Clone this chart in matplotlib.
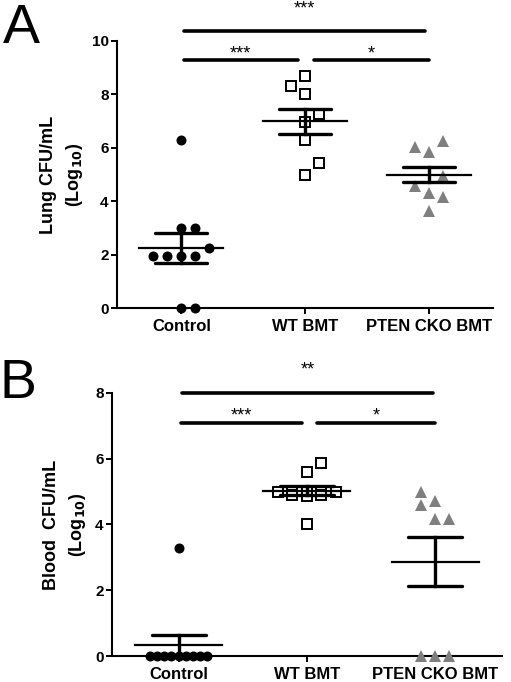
import numpy as np
import matplotlib
matplotlib.use('Agg')
import matplotlib.pyplot as plt
from matplotlib.transforms import offset_copy

plt.rcParams['font.family'] = ['Liberation Sans', 'DejaVu Sans']

groups = ['Control', 'WT BMT', 'PTEN CKO BMT']

# Panel A - lung, slot = horizontal jitter slot
lung_ctrl      = [6.3, 3.0, 3.0, 2.25, 1.95, 1.95, 1.95, 1.95, 0.0, 0.0]
lung_ctrl_slot = [0, 0, 1, 2, -2, -1, 0, 1, 0, 1]
lung_wt        = [8.69, 8.31, 8.0, 7.28, 6.98, 6.29, 5.44, 4.99]
lung_wt_slot   = [0, -1, 0, 1, 0, 0, 1, 0]
lung_pten      = [6.25, 6.02, 5.83, 4.93, 4.57, 4.30, 4.15, 3.65]
lung_pten_slot = [1, -1, 0, 1, -1, 0, 1, 0]
lung_mean = [2.27, 6.99, 5.0]
lung_sem  = [0.56, 0.48, 0.29]

# Panel B - blood
blood_ctrl      = [3.27, 0, 0, 0, 0, 0, 0, 0, 0, 0]
blood_ctrl_slot = [0, -2, -1.5, -1, -0.5, 0, 0.5, 1, 1.5, 2]
blood_wt        = [5.86, 5.60, 5.0, 5.0, 5.0, 5.0, 5.0, 4.9, 4.9, 4.86, 4.0]
blood_wt_slot   = [1, 0, -2, -1, 0, 1, 2, -1, 1, 0, 0]
blood_pten      = [5.0, 4.7, 4.6, 4.18, 4.18, 0, 0, 0]
blood_pten_slot = [-1, 0, -1, 0, 1, -1, 0, 1]
blood_mean = [0.33, 5.03, 2.87]
blood_sem  = [0.31, 0.13, 0.74]

# significance: (x1, x2, bar level, star level, label)
sig_a = [(0.02, 1.97, 10.37, 11.32, '***'), (0.02, 0.94, 9.27, 9.66, '***'), (1.07, 2.0, 9.27, 9.66, '*')]
sig_b = [(0.03, 1.98, 8.0, 8.79, '**'), (0.02, 0.96, 7.07, 7.40, '***'), (1.08, 2.0, 7.07, 7.40, '*')]

fig = plt.figure(figsize=(5.11, 6.82), dpi=100)
axA = fig.add_axes([0.229, 0.548, 0.736, 0.392])
axB = fig.add_axes([0.219, 0.038, 0.763, 0.386])

grey = '#7f7f7f'

def draw(ax, data, slots, means, sems, sig, ylim, ystep, ylabel, slot_w):
    styles = [dict(marker='o', ms=7.2, mfc='black', mec='black', mew=0),
              dict(marker='s', ms=7.6, mfc='white', mec='black', mew=1.4),
              dict(marker='^', ms=8, mfc=grey, mec=grey, mew=0)]
    for i in range(3):
        x = i + np.array(slots[i]) * slot_w
        ax.plot(x, data[i], ls='none', clip_on=False, zorder=3, **styles[i])
    for i in range(3):
        m, s = means[i], sems[i]
        ax.plot([i - 0.34, i + 0.34], [m, m], color='black', lw=1.6, zorder=4, clip_on=False)
        ax.plot([i - 0.21, i + 0.21], [m + s, m + s], color='black', lw=2.4, zorder=4, solid_capstyle='round', clip_on=False)
        ax.plot([i - 0.21, i + 0.21], [m - s, m - s], color='black', lw=2.4, zorder=4, solid_capstyle='round', clip_on=False)
        ax.plot([i, i], [m - s, m + s], color='black', lw=2.4, zorder=4, clip_on=False)
    star_tr = offset_copy(ax.transData, fig=fig, x=0, y=-8, units='dots')
    for x1, x2, y, ys, lab in sig:
        ax.plot([x1, x2], [y, y], color='black', lw=2.6, solid_capstyle='round', clip_on=False)
        ax.text((x1 + x2) / 2, ys, lab, ha='center', va='baseline', fontsize=13,
                transform=star_tr, clip_on=False)
    ax.set_xlim(-0.52, 2.52)
    ax.set_ylim(*ylim)
    ax.set_yticks(np.arange(ylim[0], ylim[1] + 0.01, ystep))
    ax.set_xticks(range(3))
    ax.set_xticklabels(groups, fontsize=12, fontweight='bold')
    for t in ax.get_yticklabels():
        t.set_fontweight('bold')
        t.set_fontsize(11)
    ax.tick_params(axis='both', direction='out', length=4, width=1.4, pad=2)
    ax.tick_params(axis='x', pad=4)
    for sp in ['top', 'right']:
        ax.spines[sp].set_visible(False)
    for sp in ['left', 'bottom']:
        ax.spines[sp].set_linewidth(1.5)
    ax.set_ylabel(ylabel, fontsize=13, fontweight='bold', linespacing=1.45, labelpad=5)

draw(axA, [lung_ctrl, lung_wt, lung_pten], [lung_ctrl_slot, lung_wt_slot, lung_pten_slot],
     lung_mean, lung_sem, sig_a, (0, 10), 2, 'Lung CFU/mL\n(Log$_{\\mathbf{10}}$)', 0.113)
draw(axB, [blood_ctrl, blood_wt, blood_pten], [blood_ctrl_slot, blood_wt_slot, blood_pten_slot],
     blood_mean, blood_sem, sig_b, (0, 8), 2, 'Blood  CFU/mL\n(Log$_{\\mathbf{10}}$)', 0.112)

fig.text(0.005, 0.995, 'A', fontsize=40, ha='left', va='top')
fig.text(0.0, 0.475, 'B', fontsize=40, ha='left', va='top')

fig.savefig('out.png', dpi=100)
